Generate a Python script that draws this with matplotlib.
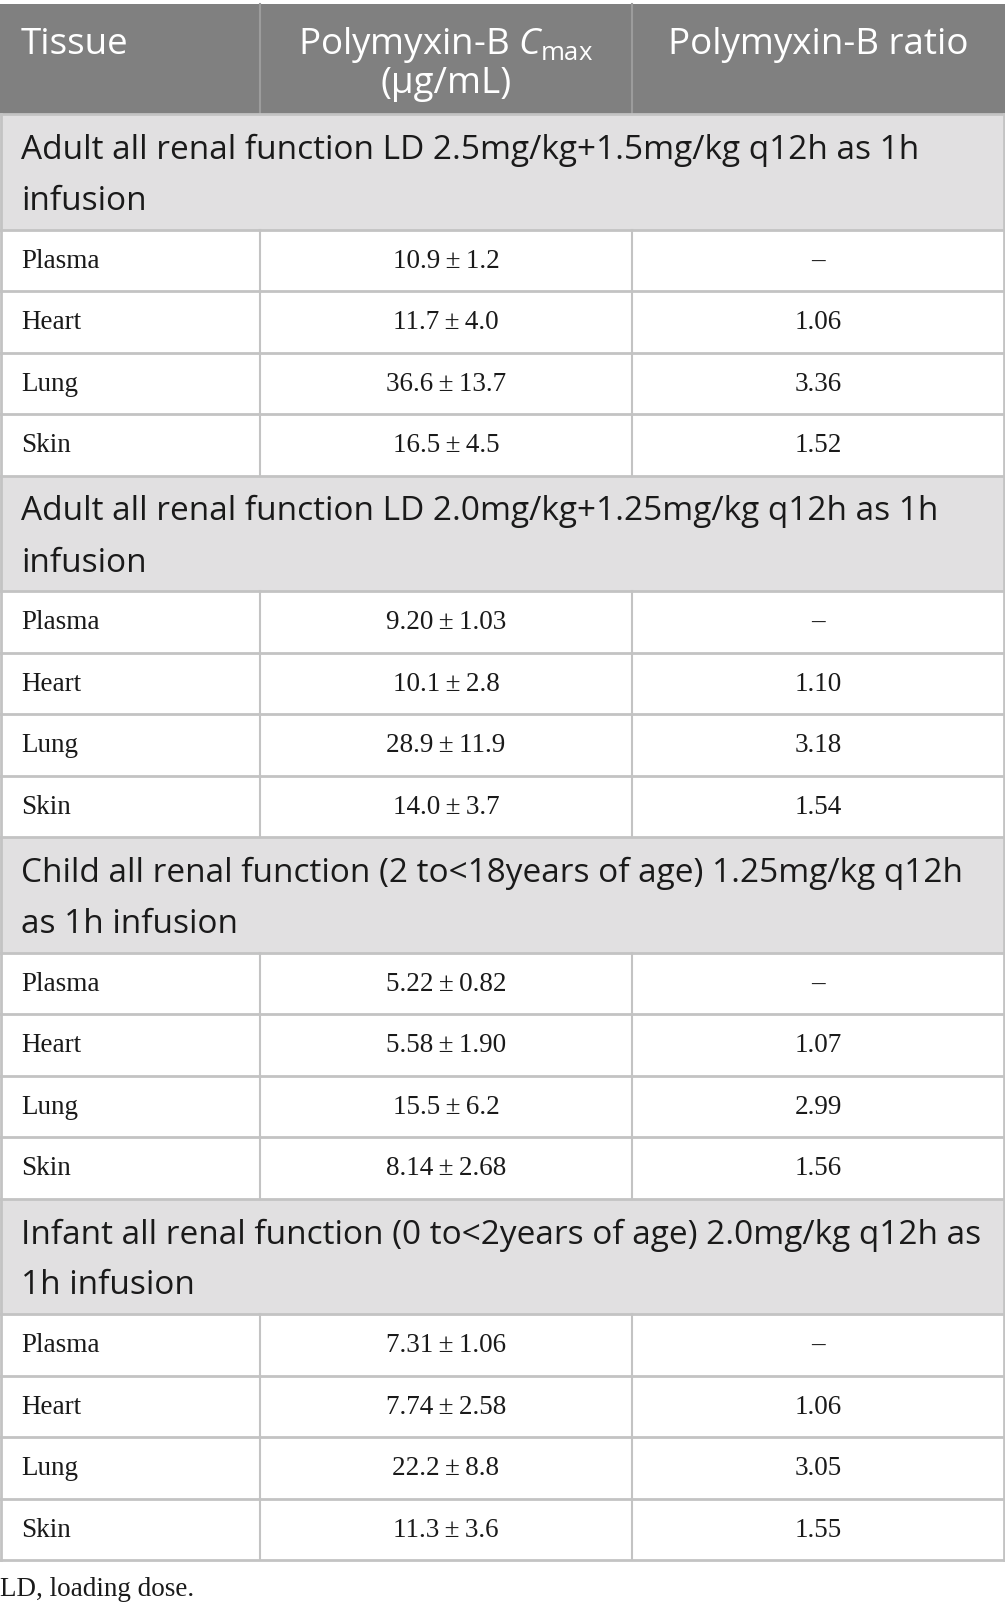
import matplotlib
matplotlib.use("Agg")
import matplotlib.pyplot as plt
from matplotlib.patches import Rectangle

plt.rcParams["mathtext.fontset"] = "custom"
plt.rcParams["mathtext.rm"] = "Open Sans"
plt.rcParams["mathtext.it"] = "Open Sans:italic"

# ---- data ----
col_headers = ["Tissue", "Polymyxin-B $C_{\\mathrm{max}}$", "Polymyxin-B ratio"]
col2_unit = "(µg/mL)"
groups = [
    ["Adult all renal function LD 2.5mg/kg+1.5mg/kg q12h as 1h", "infusion"],
    ["Adult all renal function LD 2.0mg/kg+1.25mg/kg q12h as 1h", "infusion"],
    ["Child all renal function (2 to<18years of age) 1.25mg/kg q12h", "as 1h infusion"],
    ["Infant all renal function (0 to<2years of age) 2.0mg/kg q12h as", "1h infusion"],
]
tissues = ["Plasma", "Heart", "Lung", "Skin"]
cmax_mean = [
    ["10.9", "11.7", "36.6", "16.5"],
    ["9.20", "10.1", "28.9", "14.0"],
    ["5.22", "5.58", "15.5", "8.14"],
    ["7.31", "7.74", "22.2", "11.3"],
]
cmax_sd = [
    ["1.2", "4.0", "13.7", "4.5"],
    ["1.03", "2.8", "11.9", "3.7"],
    ["0.82", "1.90", "6.2", "2.68"],
    ["1.06", "2.58", "8.8", "3.6"],
]
ratios = [
    ["–", "1.06", "3.36", "1.52"],
    ["–", "1.10", "3.18", "1.54"],
    ["–", "1.07", "2.99", "1.56"],
    ["–", "1.06", "3.05", "1.55"],
]
footnote = "LD, loading dose."

# ---- layout ----
W, H = 1005, 1609
fig = plt.figure(figsize=(W / 100, H / 100), dpi=100)
ax = fig.add_axes([0, 0, 1, 1])
ax.set_xlim(0, W)
ax.set_ylim(H, 0)
ax.axis("off")

col_x = [0, 260, 632, 1004]
top = 4
header_h = 110
group_h = 115.5
row_h = 61.5
line_c = "#c3c3c3"
sans = ["Open Sans", "DejaVu Sans"]
serif = ["Liberation Serif", "DejaVu Serif"]
hsize = 26.5
gsize = 24
dsize = 19.5

# header
ax.add_patch(Rectangle((0, top), W, header_h, facecolor="#808080", edgecolor="none"))
for x in col_x[1:3]:
    ax.plot([x, x], [top, top + header_h], color="#9c9c9c", lw=1.5)
hb = top + 50
ax.text(21, hb, col_headers[0], color="white", fontsize=hsize, family=sans, va="baseline", ha="left")
ax.text((col_x[1] + col_x[2]) / 2, hb, col_headers[1], color="white", fontsize=hsize, family=sans,
        va="baseline", ha="center")
ax.text((col_x[1] + col_x[2]) / 2, hb + 39, col2_unit, color="white", fontsize=hsize, family=sans,
        va="baseline", ha="center")
ax.text((col_x[2] + col_x[3]) / 2, hb, col_headers[2], color="white", fontsize=hsize, family=sans,
        va="baseline", ha="center")

y = top + header_h
for gi, g in enumerate(groups):
    ax.add_patch(Rectangle((0, y), W, group_h, facecolor="#e1e0e1", edgecolor="none"))
    ax.plot([0, W], [y, y], color=line_c, lw=2)
    ax.text(21, y + 45, g[0], fontsize=gsize, family=sans, va="baseline", ha="left", color="#1a1a1a")
    ax.text(21, y + 96, g[1], fontsize=gsize, family=sans, va="baseline", ha="left", color="#1a1a1a")
    y += group_h
    for ri, t in enumerate(tissues):
        ax.plot([0, W], [y, y], color=line_c, lw=2)
        for x in col_x[1:3]:
            ax.plot([x, x], [y, y + row_h], color=line_c, lw=1.5)
        cy = y + row_h / 2 + 1
        ax.text(21, cy, t, fontsize=dsize, family=serif, va="center", ha="left", color="#1a1a1a")
        ax.text((col_x[1] + col_x[2]) / 2, cy, f"{cmax_mean[gi][ri]}\u2009±\u2009{cmax_sd[gi][ri]}",
                fontsize=dsize, family=serif, va="center", ha="center", color="#1a1a1a")
        ax.text((col_x[2] + col_x[3]) / 2, cy, ratios[gi][ri], fontsize=dsize, family=serif,
                va="center", ha="center", color="#1a1a1a")
        y += row_h

ax.plot([0, W], [y, y], color=line_c, lw=2)
# outer border
ax.plot([1, 1], [top + header_h, y], color=line_c, lw=2)
ax.plot([W - 1, W - 1], [top + header_h, y], color=line_c, lw=2)

ax.text(0, y + 30, footnote, fontsize=dsize, family=serif, va="center", ha="left", color="#1a1a1a")

fig.savefig("out.png", dpi=100)
